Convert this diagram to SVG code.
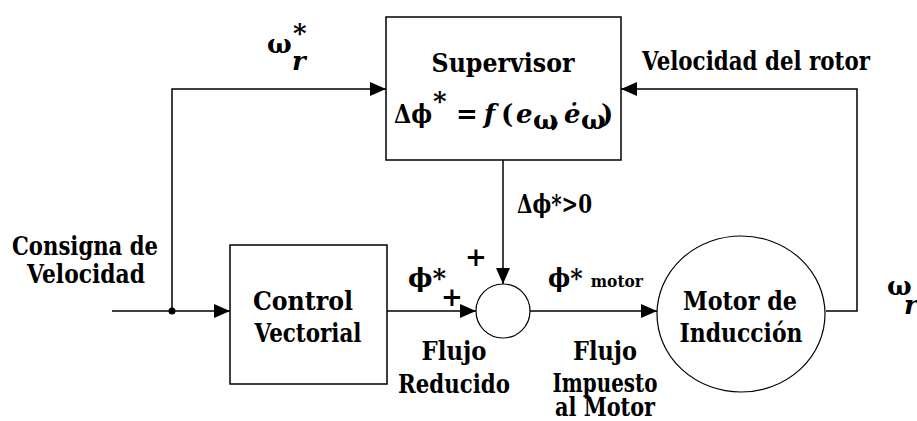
<svg xmlns="http://www.w3.org/2000/svg" width="917" height="421" viewBox="0 0 917 421">
<defs>
<marker id="arr" markerUnits="userSpaceOnUse" markerWidth="16" markerHeight="14" refX="16" refY="7" orient="auto">
<path d="M0,0 L16,7 L0,14 Z" fill="#000"/>
</marker>
<style>
text{font-family:'DejaVu Serif',serif;font-weight:bold;font-size:26px;fill:#000}
.m{text-anchor:middle}
.ln{fill:none;stroke:#000;stroke-width:1.5}
.box{fill:#fff;stroke:#000;stroke-width:1.5}
</style>
</defs>
<rect width="917" height="421" fill="#fff"/>
<g id="connectors">
<path class="ln" d="M112,311 L230,311" marker-end="url(#arr)"/>
<path class="ln" d="M172,311 L172,89 L386,89" marker-end="url(#arr)"/>
<path class="ln" d="M387,311 L476,311" marker-end="url(#arr)"/>
<path class="ln" d="M503,160 L503,284" marker-end="url(#arr)"/>
<path class="ln" d="M530,311 L657,311" marker-end="url(#arr)"/>
<path class="ln" d="M826,311 L857,311 L857,89 L621,89" marker-end="url(#arr)"/>
<circle cx="172" cy="311" r="3.5" fill="#000"/>
</g>
<g id="supervisor">
<rect class="box" x="386" y="17" width="235" height="143"/>
<text class="m" x="503" y="72" textLength="143" lengthAdjust="spacingAndGlyphs">Supervisor</text>
<text x="394" y="123" font-size="30" textLength="38" lengthAdjust="spacingAndGlyphs">Δϕ</text>
<text x="433" y="110" font-size="26">*</text>
<text x="456" y="123" font-size="30" font-weight="normal">=</text>
<text x="484" y="123" font-size="30" font-style="italic" font-weight="normal">f</text>
<text x="501" y="123" font-size="30" font-weight="normal">(</text>
<text x="516" y="123" font-size="28" font-style="italic">e</text>
<text x="533" y="129" font-size="13">ω</text>
<text x="551" y="126" font-size="24">,</text>
<text x="564" y="123" font-size="28" font-style="italic">ė</text>
<text x="581" y="129" font-size="13">ω</text>
<text x="601" y="123" font-size="30" font-weight="normal">)</text>
</g>
<g id="control">
<rect class="box" x="230" y="245" width="157" height="139"/>
<text class="m" x="303" y="310" textLength="100" lengthAdjust="spacingAndGlyphs">Control</text>
<text class="m" x="308" y="342" textLength="107" lengthAdjust="spacingAndGlyphs">Vectorial</text>
</g>
<g id="sum">
<circle cx="503" cy="311" r="27" fill="#fff" stroke="#000" stroke-width="1.2"/>
</g>
<g id="motor">
<ellipse cx="741" cy="314" rx="84" ry="78" fill="#fff" stroke="#000" stroke-width="1.2"/>
<text class="m" x="740" y="310" textLength="114" lengthAdjust="spacingAndGlyphs">Motor de</text>
<text class="m" x="741" y="342" textLength="123" lengthAdjust="spacingAndGlyphs">Inducción</text>
</g>
<g id="labels">
<text class="m" x="85" y="255" textLength="146" lengthAdjust="spacingAndGlyphs">Consigna de</text>
<text class="m" x="86" y="283" textLength="118" lengthAdjust="spacingAndGlyphs">Velocidad</text>
<text x="267" y="53" font-size="26">ω</text>
<text x="293" y="42" font-size="26">*</text>
<text x="292" y="70" font-size="26" font-style="italic">r</text>
<text x="642" y="70" textLength="228" lengthAdjust="spacingAndGlyphs">Velocidad del rotor</text>
<text x="517" y="213" font-size="22" textLength="75" lengthAdjust="spacingAndGlyphs">Δϕ*&gt;0</text>
<text class="m" x="476" y="266" font-size="26" font-weight="normal">+</text>
<text class="m" x="452" y="306" font-size="26" font-weight="normal">+</text>
<text x="408" y="287" font-size="22">ϕ*</text>
<text x="548" y="287" font-size="22" textLength="95" lengthAdjust="spacingAndGlyphs">ϕ* <tspan font-size="17">motor</tspan></text>
<text class="m" x="454" y="360" textLength="65" lengthAdjust="spacingAndGlyphs">Flujo</text>
<text class="m" x="454" y="393" textLength="112" lengthAdjust="spacingAndGlyphs">Reducido</text>
<text class="m" x="605" y="360" textLength="64" lengthAdjust="spacingAndGlyphs">Flujo</text>
<text class="m" x="605" y="392" textLength="105" lengthAdjust="spacingAndGlyphs">Impuesto</text>
<text class="m" x="605" y="416" textLength="100" lengthAdjust="spacingAndGlyphs">al Motor</text>
<text x="887" y="295" font-size="26">ω</text>
<text x="904" y="314" font-size="26" font-style="italic">r</text>
</g>
</svg>
